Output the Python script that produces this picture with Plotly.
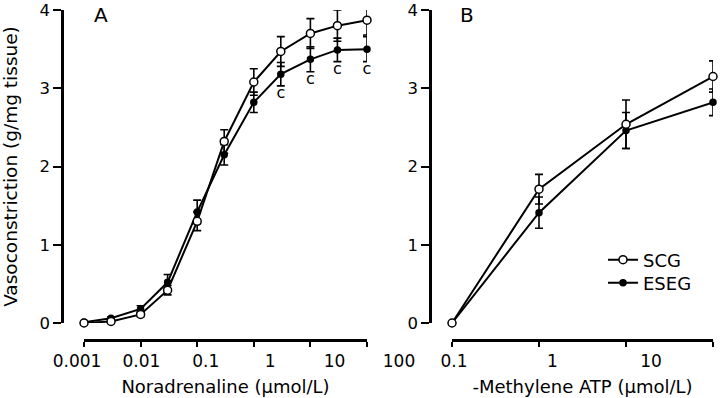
import plotly.graph_objects as go

W, H = 720, 398

# ---- Data ----
nor_x = [0.001, 0.003, 0.01, 0.03, 0.1, 0.3, 1, 3, 10, 30, 100]
nor_scg = [0.00, 0.02, 0.11, 0.42, 1.30, 2.32, 3.08, 3.47, 3.70, 3.80, 3.87]
nor_scg_err = [0.02, 0.02, 0.03, 0.06, 0.12, 0.15, 0.17, 0.19, 0.19, 0.20, 0.19]
nor_eseg = [0.01, 0.06, 0.18, 0.52, 1.42, 2.15, 2.82, 3.18, 3.37, 3.49, 3.50]
nor_eseg_err = [0.02, 0.02, 0.04, 0.10, 0.15, 0.13, 0.13, 0.15, 0.16, 0.15, 0.16]
sig_mark = ["", "", "", "", "", "", "", "c", "c", "c", "c"]

atp_x = [0.1, 1, 10, 100]
atp_scg = [0.00, 1.71, 2.54, 3.15]
atp_scg_err = [0.0, 0.19, 0.31, 0.20]
atp_eseg = [0.00, 1.41, 2.46, 2.82]
atp_eseg_err = [0.0, 0.20, 0.23, 0.17]

nor_ticks = [0.001, 0.01, 0.1, 1, 10, 100]
nor_ticktext = ["0.001", "0.01", "0.1", "1", "10", "100"]
atp_ticks = [0.1, 1, 10, 100]
atp_label_ticks = [0.1, 1, 10]
atp_ticktext = ["0.1", "1", "10"]
y_ticks = [0, 1, 2, 3, 4]

FONT = "DejaVu Sans"

fig = go.Figure()

# Invisible helpers so the label-only axes are drawn
fig.add_trace(go.Scatter(x=nor_ticks, y=[None] * len(nor_ticks), xaxis="x3", yaxis="y",
                         showlegend=False, hoverinfo="skip", mode="markers"))
fig.add_trace(go.Scatter(x=atp_label_ticks, y=[None] * len(atp_label_ticks), xaxis="x4", yaxis="y2",
                         showlegend=False, hoverinfo="skip", mode="markers"))


def add_series(x, y, err, name, filled, xa, ya, show, legend="legend"):
    fig.add_trace(go.Scatter(
        x=x, y=y, mode="lines+markers", name=name,
        line=dict(color="black", width=2),
        marker=dict(symbol="circle", size=6 if filled else 8,
                    color="black" if filled else "white",
                    line=dict(color="black", width=1.5)),
        error_y=dict(type="data", array=err, color="black", thickness=1.6, width=4),
        xaxis=xa, yaxis=ya, showlegend=show, cliponaxis=False, legend=legend,
    ))


# Panel A
add_series(nor_x, nor_eseg, nor_eseg_err, "ESEG", True, "x", "y", False)
add_series(nor_x, nor_scg, nor_scg_err, "SCG", False, "x", "y", False)
fig.add_trace(go.Scatter(
    x=nor_x, y=[v - e for v, e in zip(nor_eseg, nor_eseg_err)], text=sig_mark,
    mode="text", textposition="bottom center",
    textfont=dict(family=FONT, size=16, color="black"),
    xaxis="x", yaxis="y", showlegend=False, cliponaxis=False, hoverinfo="skip"))

# Panel B
add_series(atp_x, atp_eseg, atp_eseg_err, "ESEG", True, "x2", "y2", True, "legend2")
add_series(atp_x, atp_scg, atp_scg_err, "SCG", False, "x2", "y2", True, "legend")

xpos = 1 - 340 / H
ydom = [1 - 323 / H, 1 - 10 / H]

data_x = dict(type="log", anchor="free", position=xpos, showline=True, linewidth=2.5,
              linecolor="black", ticks="outside", ticklen=5, tickwidth=2, tickcolor="black",
              showticklabels=False, showgrid=False, zeroline=False, automargin=False,
              title=dict(font=dict(family=FONT, size=18, color="black"), standoff=34))
label_x = dict(type="log", anchor="free", position=xpos, showline=False, ticks="outside",
               ticklen=6, tickcolor="rgba(0,0,0,0)", showgrid=False, zeroline=False,
               automargin=False, ticklabeloverflow="allow",
               tickfont=dict(family=FONT, size=17, color="black"))
data_y = dict(range=[0, 4], domain=ydom, anchor="free", showline=True, linewidth=2.5,
              linecolor="black", ticks="outside", ticklen=8, tickwidth=2, tickcolor="black",
              tickvals=y_ticks, showgrid=False, zeroline=False, automargin=False,
              ticklabeloverflow="allow",
              tickfont=dict(family=FONT, size=16.5, color="black"))
leg = dict(x=603 / W, xanchor="left", yanchor="middle",
           font=dict(family=FONT, size=18, color="black"), bgcolor="rgba(0,0,0,0)",
           itemwidth=30)

fig.update_layout(
    width=W, height=H, margin=dict(l=0, r=0, t=0, b=0, autoexpand=False),
    paper_bgcolor="white", plot_bgcolor="rgba(0,0,0,0)",
    font=dict(family=FONT, color="black"),
    xaxis=dict(data_x, range=[-3, 2], domain=[84 / W, 367 / W], tickvals=nor_ticks,
               title=dict(data_x["title"], text="Noradrenaline (μmol/L)")),
    xaxis2=dict(data_x, range=[-1, 2], domain=[452 / W, 713 / W], tickvals=atp_ticks,
                title=dict(data_x["title"], text="\u00a0\u00a0\u00a0-Methylene ATP (μmol/L)")),
    xaxis3=dict(label_x, range=[-3, 2], domain=[77 / W, 399 / W], tickvals=nor_ticks,
                ticktext=nor_ticktext),
    xaxis4=dict(label_x, range=[-1, 1], domain=[454 / W, 651 / W], tickvals=atp_label_ticks,
                ticktext=atp_ticktext),
    yaxis=dict(data_y, position=62 / W,
               title=dict(text="Vasoconstriction (g/mg tissue)",
                          font=dict(family=FONT, size=18.5, color="black"), standoff=18)),
    yaxis2=dict(data_y, position=430 / W),
    legend=dict(leg, y=1 - 260 / H),
    legend2=dict(leg, y=1 - 283 / H),
    annotations=[
        dict(text="A", x=101 / W, y=1 - 15 / H, xref="paper", yref="paper", showarrow=False,
             xanchor="center", yanchor="middle",
             font=dict(family=FONT, size=20, color="black")),
        dict(text="B", x=467 / W, y=1 - 15 / H, xref="paper", yref="paper", showarrow=False,
             xanchor="center", yanchor="middle",
             font=dict(family=FONT, size=20, color="black")),
    ],
)

fig.write_html("out.html", config={"displayModeBar": False},
               post_script="document.body.style.margin='0px';")
